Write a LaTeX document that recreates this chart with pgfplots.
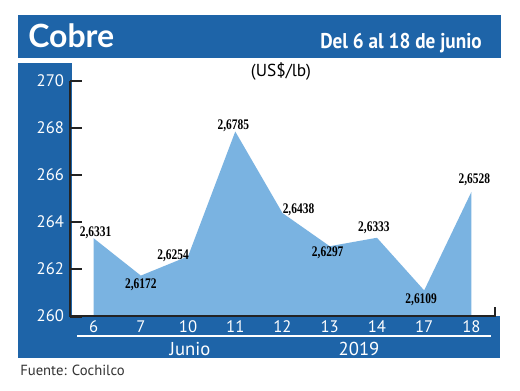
\documentclass[border=0pt]{standalone}
\usepackage{pgfplots}
\pgfplotsset{compat=1.18}
\usepackage{fontspec}
\setmainfont{PT Sans}
\newfontfamily\titlefont{Lato}
\newfontfamily\lblfont{Liberation Serif}
\definecolor{hdrblue}{RGB}{30,100,168}
\definecolor{areablue}{RGB}{122,179,225}
\definecolor{axdark}{RGB}{35,35,35}
\newcommand{\lbl}[1]{\scalebox{0.78}[1]{\lblfont\bfseries\fontsize{11}{11}\selectfont #1}}

\pgfplotstableread{
x y lab xs ys
0 263.31 2,6331 1.5 3.75
1 261.72 2,6172 0 -6.75
2 262.54 2,6254 -11.25 0.75
3 267.85 2,6785 -1.5 4.5
4 264.38 2,6438 12 2.25
5 262.97 2,6297 -1.5 -5.25
6 263.33 2,6333 -2.25 7.5
7 261.09 2,6109 -2.25 -6.75
8 265.28 2,6528 2.25 9
}\cobre

\begin{document}
\begin{tikzpicture}
\path[use as bounding box, fill=white] (0pt,0pt) rectangle (390pt,-292.5pt);
\begin{scope}[x=0.75pt,y=-0.75pt]
 \fill[hdrblue] (18,15) rectangle (501,58);
 \fill[hdrblue] (18,63) rectangle (72,358);
 \fill[hdrblue] (18,316) rectangle (500,358);
 \node[anchor=base west, text=white, inner sep=0] at (28,47) {\titlefont\bfseries\fontsize{24}{24}\selectfont Cobre};
 \node[anchor=base east, text=white, inner sep=0] at (482,48) {\scalebox{0.9}[1]{\bfseries\fontsize{16}{16}\selectfont Del 6 al 18 de junio}};
 \node[text=black, inner sep=0] at (281,71) {\fontsize{13}{13}\selectfont (US\$/lb)};
 \node[anchor=west, text=black!80, inner sep=0] at (20,370) {\fontsize{11}{11}\selectfont Fuente: Cochilco};
 \draw[white, line width=1.2pt] (77,336) -- (491,336);
 \node[text=white, inner sep=0] at (190,349) {\fontsize{14}{14}\selectfont Junio};
 \node[text=white, inner sep=0] at (359,349) {\fontsize{14}{14}\selectfont 2019};
\end{scope}
\begin{axis}[
  at={(52.5pt,-237pt)}, anchor=south west,
  width=318.75pt, height=176.25pt, scale only axis,
  xmin=-0.5, xmax=8.5, ymin=260, ymax=270,
  axis lines*=left,
  axis line style={-, line width=1.8pt, draw=axdark},
  xtick={0,...,8},
  xticklabels={6,7,10,11,12,13,14,17,18},
  ytick={260,262,...,270},
  major tick length=0pt,
  /pgf/number format/assume math mode=true,
  /pgf/number format/1000 sep={},
  ticklabel style={text=white, font=\fontsize{12.5}{12.5}\selectfont},
  yticklabel style={xshift=-1pt},
  clip mode=individual,
]
\addplot[fill=areablue, draw=none] table[x=x, y=y] {\cobre} \closedcycle;
\addplot[draw=none, mark=none, forget plot,
  visualization depends on={\thisrow{xs} \as \xs},
  visualization depends on={\thisrow{ys} \as \ys},
  point meta=explicit symbolic,
  nodes near coords={\lbl{\pgfplotspointmeta}},
  every node near coord/.append style={inner sep=0pt, anchor=center, xshift=\xs pt, yshift=\ys pt, text=black},
] table[x=x, y=y, meta=lab] {\cobre};
\end{axis}
\begin{scope}[x=0.75pt,y=-0.75pt]
 \draw[draw=axdark, line width=1.8pt] (70,81) -- (70,316) -- (495,316) -- (495,307);
 \foreach \py in {81,128,175,222,269,317}
   \draw[draw=axdark, line width=1.8pt] (70,\py) -- (82,\py);
\end{scope}
\end{tikzpicture}
\end{document}
